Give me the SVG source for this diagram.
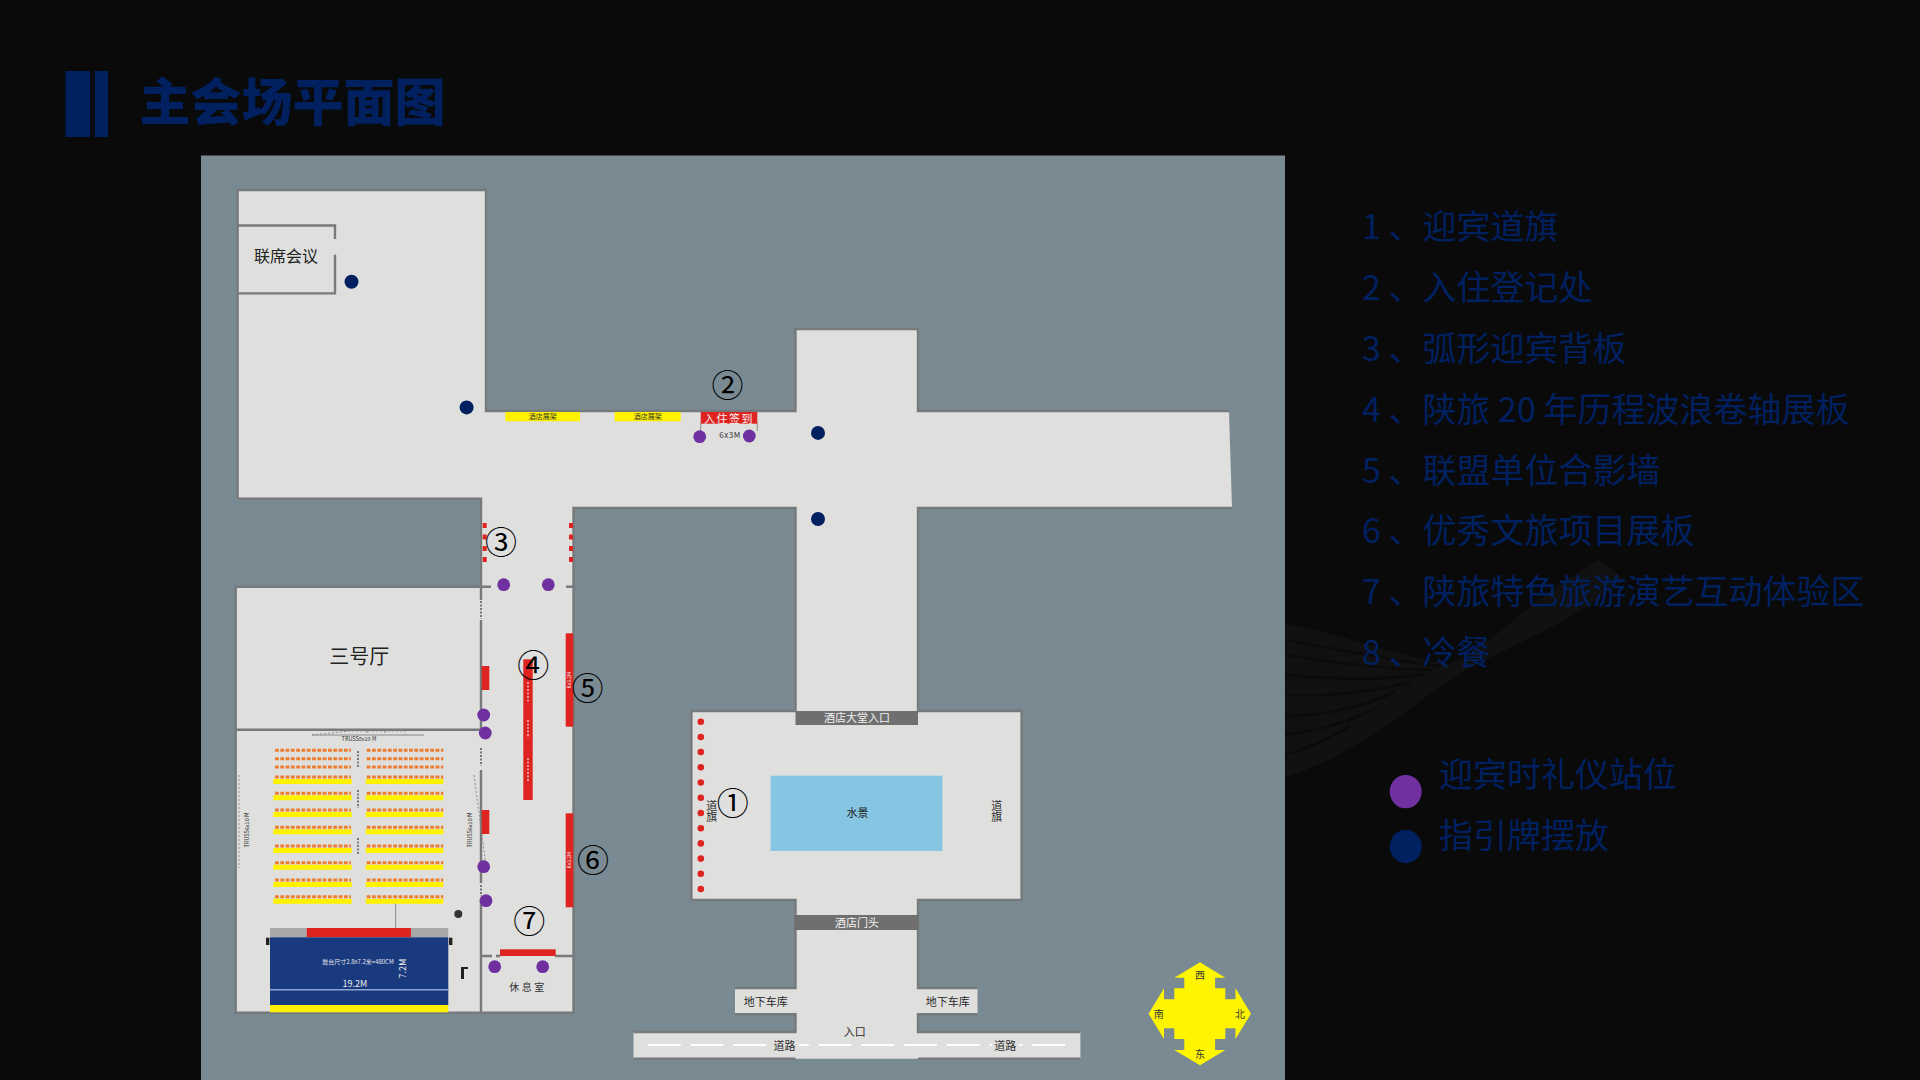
<svg xmlns="http://www.w3.org/2000/svg" width="1920" height="1080" viewBox="0 0 1920 1080">
<style>
text{font-family:"Noto Sans CJK SC","Noto Sans",sans-serif;text-anchor:middle;dominant-baseline:central}
.wall{fill:none;stroke:#777a7b;stroke-width:2.4}
.thin{fill:none;stroke:#8a8a8a;stroke-width:1}
.mark{fill:none;stroke:#777;stroke-width:2;stroke-dasharray:2 1.5}
.floor{fill:#dfdfde}
.red{fill:#de2420}
.pu{fill:#7030a0}
.na{fill:#002060}
.seat{stroke:#ed7d31;stroke-width:3;stroke-dasharray:3.8 1.5;fill:none}
.yb{fill:#fff200}
.l{fill:#002060;font-size:34px;text-anchor:start;dominant-baseline:alphabetic}
.n{fill:#000;font-size:32px}
.s{fill:#2a2a2a;font-size:11px}
.w{fill:#f2f2f2;font-size:11px}
.t{fill:#333;font-size:5.5px}
</style>
<rect width="1920" height="1080" fill="#0a0a0a"/>
<g id="swoosh">
<path d="M1286,624C1350,636 1410,660 1450,664C1500,640 1540,590 1600,560L1625,580C1560,630 1500,650 1470,668C1420,695 1370,750 1286,777Z" fill="#111"/>
<path d="M1286,640C1340,650 1400,662 1440,666M1286,655C1340,664 1400,670 1432,670M1286,675C1340,680 1390,680 1425,674M1286,695C1340,697 1380,690 1410,682M1286,716C1320,716 1360,708 1395,692M1286,735C1320,730 1350,722 1375,708M1286,755C1310,748 1330,738 1350,726" fill="none" stroke="#0b0b0b" stroke-width="2.5"/>
</g>
<g id="title">
<rect x="65.5" y="71" width="24.5" height="66" class="na"/>
<rect x="95" y="71" width="13" height="66" class="na"/>
<text x="139.5" y="121" style="text-anchor:start;dominant-baseline:alphabetic;font-size:51px;font-weight:900;fill:#002060">主会场平面图</text>
</g>
<rect id="site" x="201" y="155.5" width="1084" height="924.5" fill="#7a8a92"/>
<g id="building">
<path class="floor" d="M237.6,190H486V411H795.5V329H918V411H1229L1232,508H918V711H1021.6V900H918V988H977.5V1014.3H918V1032H1080.4V1058.7H633.5V1032H795.5V1014.3H735V988H795.5V900H691.4V711H795.5V508H573.5V1012.7H235.7V586.7H481V498.6H237.6Z"/>
</g>
<g id="connectors">
<path class="wall" d="M237.6,498.6V190H486V411H795.5V329H918V411H1229M1232,508H918V711H1021.6V900H918V988H977.5M977.5,1014.3H918V1032H1080.4M1080.4,1058.7H918M795.5,1058.7H633.5M633.5,1032H795.5V1014.3H735M735,988H795.5V900H691.4V711H795.5V508H573.5V1012.7H235.7V586.7H481V498.6H237.6"/>
<path class="wall" d="M481,586.7V600M481,620V730M481,770V883M481,898V1012.7M235.7,729.7H481M481,586.7H491M566,586.7H573.5M481,956H492M496,956H500M555,956H573.5M237.6,225.5H335V239M335,254.8V293.4H237.6"/>
<path class="thin" d="M700.7,423V436M757.3,423V431M395.7,903V928M312,735H424"/>
<path class="thin" stroke-dasharray="2 2" d="M312,735L350,731H405V735M367,731V735M385,731V735M239,775V868M474,775L486,866"/>
<path class="mark" d="M481,601V619M481,748V766M481,885V896M358,751V767M358,790V808M358,838V855"/>
</g>
<g id="room-lianxi"><text x="286" y="255" style="fill:#222;font-size:16px">联席会议</text></g>
<g id="hall3"><text x="359.3" y="655" style="fill:#222;font-size:20px">三号厅</text></g>
<g id="booth-yellow">
<rect x="505.3" y="412" width="74.7" height="9.3" class="yb"/><rect x="614.7" y="412" width="66" height="9.3" class="yb"/>
<text x="542.7" y="416" style="fill:#333;font-size:7px">酒店展架</text>
<text x="647.7" y="416" style="fill:#333;font-size:7px">酒店展架</text>
</g>
<g id="checkin">
<rect x="700.7" y="412" width="56.6" height="11.7" class="red"/>
<text x="729" y="417.5" style="fill:#f5f5f5;font-size:11px;letter-spacing:1.5px">入住签到</text>
<text x="730" y="434" style="fill:#333;font-size:8px;letter-spacing:.5px">6x3M</text>
</g>
<g id="flags3" class="red">
<rect x="482.7" y="523" width="4" height="5"/><rect x="482.7" y="534.5" width="4" height="5"/><rect x="482.7" y="546" width="4" height="5"/><rect x="482.7" y="557" width="4" height="5"/>
<rect x="569" y="523" width="4" height="5"/><rect x="569" y="534.5" width="4" height="5"/><rect x="569" y="546" width="4" height="5"/><rect x="569" y="557" width="4" height="5"/>
</g>
<g id="panels">
<rect x="481.7" y="666" width="7.6" height="24" class="red"/><rect x="481.7" y="810" width="7.6" height="24" class="red"/>
<rect x="523.3" y="659.3" width="9.4" height="140.7" class="red"/>
<rect x="565.7" y="633.3" width="7.6" height="93.4" class="red"/><rect x="565.7" y="813.3" width="7.6" height="94" class="red"/>
<rect x="500" y="949.3" width="55.7" height="6.7" class="red"/>
<path d="M528,682V702M528,720V738M528,758V782" stroke="#f0f0f0" stroke-width="1.4" stroke-dasharray="2 1.5" fill="none" opacity=".8"/>
<text transform="translate(568.5,680) rotate(-90)" class="w" style="font-size:5px">6x3.2M</text>
<text transform="translate(568.5,860) rotate(-90)" class="w" style="font-size:5px">6x3.2M</text>
</g>
<g id="seats">
<path class="yb" d="M273.3,779h78.4v5h-78.4zM365.7,779h77.6v5h-77.6zM273.3,795.3h78.4v5h-78.4zM365.7,795.3h77.6v5h-77.6zM273.3,812h78.4v5h-78.4zM365.7,812h77.6v5h-77.6zM273.3,829.3h78.4v5h-78.4zM365.7,829.3h77.6v5h-77.6zM273.3,848h78.4v5h-78.4zM365.7,848h77.6v5h-77.6zM273.3,864.7h78.4v5h-78.4zM365.7,864.7h77.6v5h-77.6zM273.3,882h78.4v5h-78.4zM365.7,882h77.6v5h-77.6zM273.3,898.7h78.4v5h-78.4zM365.7,898.7h77.6v5h-77.6z"/>
<path class="seat" d="M275,750.3H351M275,758.7H351M275,767H351M275,777H351M275,793.3H351M275,810H351M275,827.3H351M275,846H351M275,862.7H351M275,880H351M275,896.7H351M366.7,750.3H443.3M366.7,758.7H443.3M366.7,767H443.3M366.7,777H443.3M366.7,793.3H443.3M366.7,810H443.3M366.7,827.3H443.3M366.7,846H443.3M366.7,862.7H443.3M366.7,880H443.3M366.7,896.7H443.3"/>
<text x="359" y="739" class="t">TRUSS8x10 M</text>
<text transform="translate(247,830) rotate(-90)" class="t">TRUSS6x10 M</text>
<text transform="translate(470,830) rotate(-90)" class="t">TRUSS6x10 M</text>
</g>
<g id="stage">
<rect x="270" y="928" width="36.7" height="9.3" fill="#a8a8a8"/><rect x="411" y="928" width="37.3" height="9.3" fill="#a8a8a8"/>
<rect x="306.7" y="928" width="104.3" height="9.3" class="red"/>
<rect x="270" y="937.3" width="178.3" height="67.7" fill="#1a3a80"/>
<rect x="270" y="989" width="178.3" height="1.5" fill="#8fa4d0"/>
<rect x="270" y="1005" width="178.3" height="7.3" class="yb"/>
<rect x="266" y="937.7" width="3.4" height="7.3" fill="#222"/><rect x="449" y="937.7" width="3.4" height="7.3" fill="#222"/>
<circle cx="458.3" cy="914" r="4" fill="#333"/>
<path d="M461,967h7v2h-4v10h-3z" fill="#222"/>
<text x="358" y="961.5" style="fill:#e8e8e8;font-size:6px">舞台尺寸2.8x7.2米=480CM</text>
<text x="355" y="983" style="fill:#eee;font-size:9px">19.2M</text>
<text transform="translate(402.7,968.7) rotate(-90)" style="fill:#eee;font-size:9px">7.2M</text>
</g>
<g id="lounge"><text x="528" y="986" style="fill:#333;font-size:10px;letter-spacing:2.5px">休息室</text></g>
<g id="plaza">
<rect x="795.5" y="711" width="122.5" height="14" fill="#6f6f6f"/>
<text x="857" y="717" class="w">酒店大堂入口</text>
<rect x="770.6" y="775.7" width="171.8" height="75.3" fill="#86c6e3"/>
<text x="857.6" y="812" class="s" style="fill:#1a1a1a">水景</text>
<text x="711.8" y="805" class="s">道</text><text x="711.8" y="816.3" class="s">旗</text>
<text x="996.7" y="805" class="s">道</text><text x="996.7" y="816.3" class="s">旗</text>
<g class="red"><circle cx="700.8" cy="721.7" r="3.3"/><circle cx="700.8" cy="737" r="3.3"/><circle cx="700.8" cy="752" r="3.3"/><circle cx="700.8" cy="767.3" r="3.3"/><circle cx="700.8" cy="782.5" r="3.3"/><circle cx="700.8" cy="797.7" r="3.3"/><circle cx="700.8" cy="813" r="3.3"/><circle cx="700.8" cy="828.2" r="3.3"/><circle cx="700.8" cy="843.4" r="3.3"/><circle cx="700.8" cy="858.6" r="3.3"/><circle cx="700.8" cy="873.8" r="3.3"/><circle cx="700.8" cy="889" r="3.3"/></g>
<rect x="794.3" y="915" width="124.5" height="15" fill="#6f6f6f"/>
<text x="857" y="922" class="w">酒店门头</text>
</g>
<g id="entrance">
<path d="M648,1045H1066" stroke="#fff" stroke-width="2" stroke-dasharray="32.7 10" fill="none"/>
<rect x="771" y="1040" width="28" height="11" class="floor"/><rect x="992" y="1040" width="27" height="11" class="floor"/>
<text x="765.7" y="1000.7" class="s">地下车库</text><text x="947.8" y="1000.7" class="s">地下车库</text>
<text x="854.7" y="1030.7" class="s">入口</text>
<text x="784.5" y="1044.7" class="s">道路</text><text x="1005.3" y="1044.7" class="s">道路</text>
</g>
<g id="markers">
<g class="pu"><circle cx="699.7" cy="436.7" r="6.4"/><circle cx="749.3" cy="436" r="6.4"/><circle cx="503.7" cy="584.7" r="6.4"/><circle cx="548.3" cy="584.7" r="6.4"/><circle cx="483.7" cy="715" r="6.4"/><circle cx="485.3" cy="733" r="6.4"/><circle cx="483.7" cy="866.7" r="6.4"/><circle cx="486" cy="900.7" r="6.4"/><circle cx="494.7" cy="966.7" r="6.4"/><circle cx="542.7" cy="966.7" r="6.4"/></g>
<g class="na"><circle cx="351.5" cy="281.7" r="7"/><circle cx="466.6" cy="407.4" r="7"/><circle cx="818" cy="432.9" r="7"/><circle cx="818" cy="519" r="7"/></g>
</g>
<g id="numbers" transform="translate(0,-2.5)">
<text x="732.7" y="803" class="n">①</text><text x="727.5" y="385" class="n">②</text><text x="501" y="542.7" class="n">③</text><text x="533.3" y="665.3" class="n">④</text><text x="587.5" y="688.3" class="n">⑤</text><text x="593" y="860" class="n">⑥</text><text x="529.3" y="921" class="n">⑦</text>
</g>
<g id="compass">
<polygon points="1200,962.3 1225.3,977.7 1215.1,977.7 1215.1,988.3 1225.3,988.3 1225.3,999.3 1235.5,999.3 1235.5,988.3 1251,1013.7 1235.5,1039 1235.5,1028.3 1225.3,1028.3 1225.3,1039 1215.1,1039 1215.1,1050 1225.3,1050 1200,1065.3 1174.3,1050 1184.3,1050 1184.3,1039 1174.3,1039 1174.3,1028.3 1164,1028.3 1164,1039 1148.6,1013.7 1164,988.3 1164,999.3 1174.3,999.3 1174.3,988.3 1184.3,988.3 1184.3,977.7 1174.3,977.7" fill="#fff500"/>
<g style="font-size:10px" fill="#333"><text x="1200" y="974">西</text><text x="1200" y="1053">东</text><text x="1158.8" y="1013.7">南</text><text x="1240" y="1013.7">北</text></g>
</g>
<g id="list">
<text class="l" x="1362" y="239">1 、迎宾道旗</text>
<text class="l" x="1362" y="300">2 、入住登记处</text>
<text class="l" x="1362" y="361">3 、弧形迎宾背板</text>
<text class="l" x="1362" y="422">4 、陕旅 20 年历程波浪卷轴展板</text>
<text class="l" x="1362" y="482.5">5 、联盟单位合影墙</text>
<text class="l" x="1362" y="543">6 、优秀文旅项目展板</text>
<text class="l" x="1362" y="604">7 、陕旅特色旅游演艺互动体验区</text>
<text class="l" x="1362" y="665">8 、冷餐</text>
</g>
<g id="legend">
<ellipse cx="1405.7" cy="791.6" rx="16" ry="16.7" class="pu"/>
<ellipse cx="1405.7" cy="846.5" rx="16" ry="16.7" class="na"/>
<text class="l" x="1439" y="787">迎宾时礼仪站位</text>
<text class="l" x="1439" y="848">指引牌摆放</text>
</g>
</svg>
